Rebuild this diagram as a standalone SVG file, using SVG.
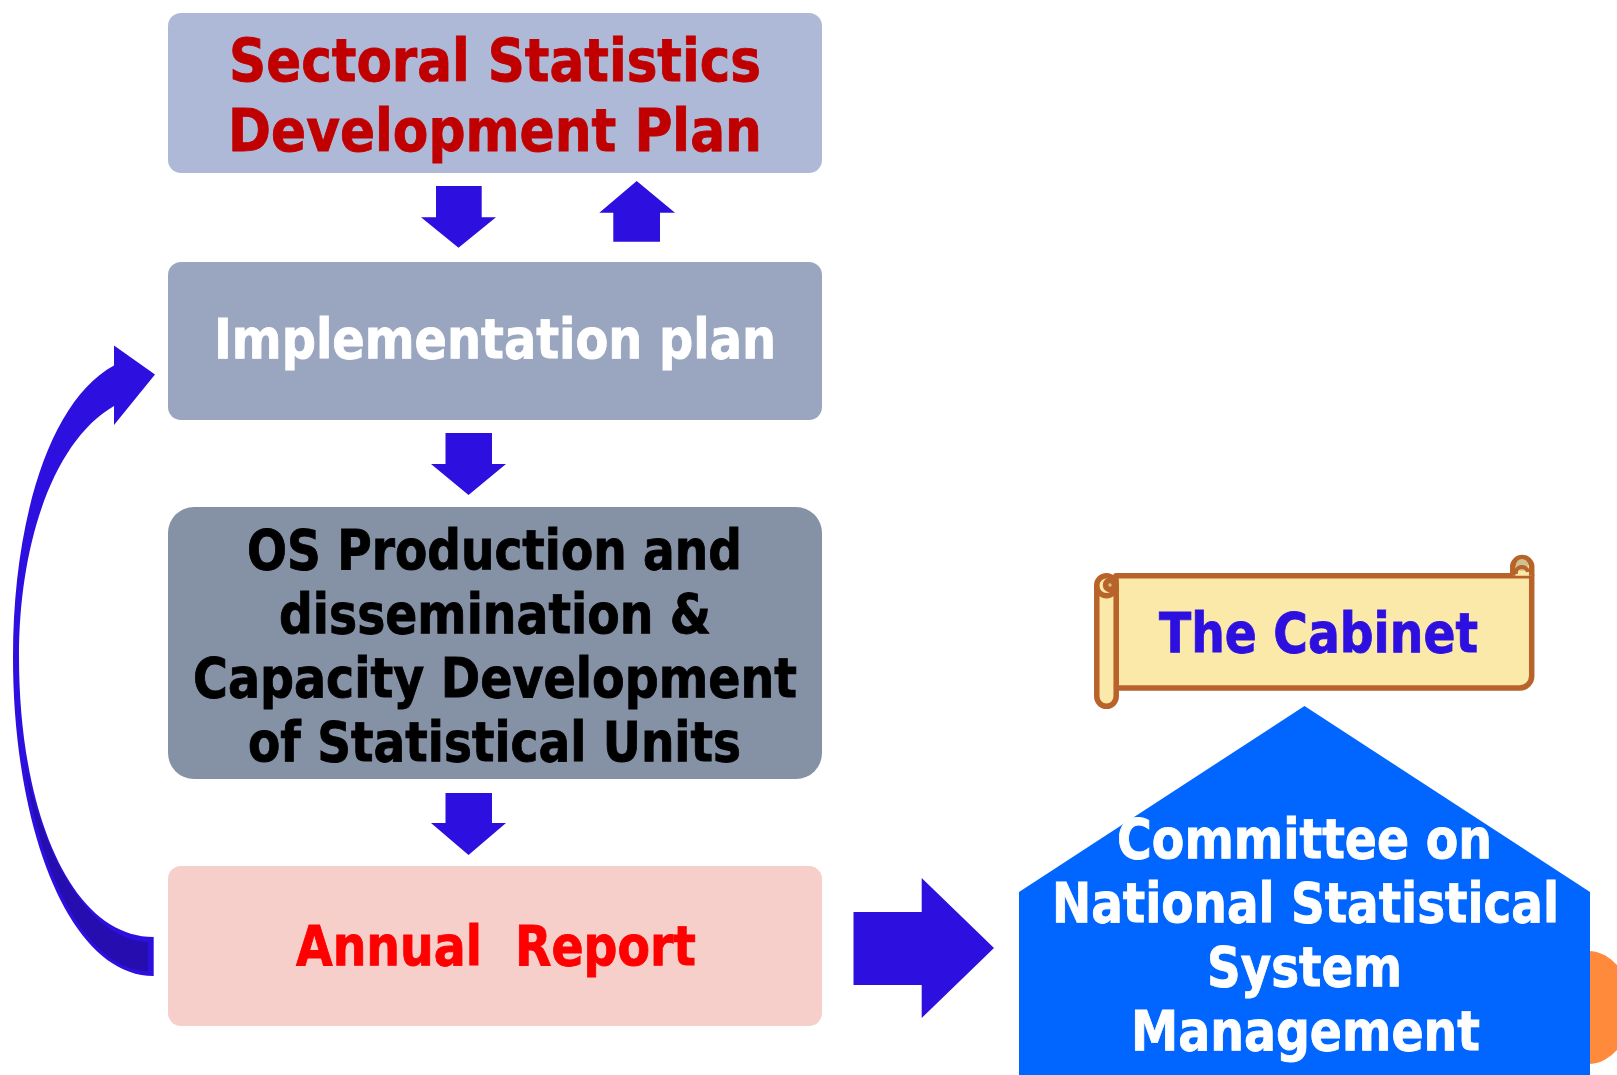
<svg xmlns="http://www.w3.org/2000/svg" width="1617" height="1075" viewBox="0 0 1617 1075">
<style>
text{font-family:"DejaVu Sans","Liberation Sans",sans-serif;font-weight:bold;font-size:55px;stroke-width:.9}
.big{font-size:59px}
.dkred{fill:#c00000;stroke:#c00000}
.white{fill:#fff;stroke:#fff}
.black{fill:#000;stroke:#000}
.red{fill:#f00;stroke:#f00}
.blue{fill:#2d10df;stroke:#2d10df}
.arrow{fill:#2d10df}
.scroll{stroke:#b8632a;stroke-width:5.500;stroke-linejoin:round;fill:#fbe9a9}
.curl{fill:#cfc08f}
</style>
<rect width="1617" height="1075" fill="#fff"/>
<ellipse id="orange-shape" cx="1588" cy="1007.5" rx="44" ry="56.5" fill="#ff8a3c"/>
<g id="sectoral-plan">
<rect x="168" y="13" width="654" height="160" rx="13" fill="#adb9d6"/>
<text class="big dkred" x="229" y="81" textLength="532" lengthAdjust="spacingAndGlyphs">Sectoral Statistics</text>
<text class="big dkred" x="228" y="151" textLength="534" lengthAdjust="spacingAndGlyphs">Development Plan</text>
</g>
<g id="implementation-plan">
<rect x="168" y="262" width="654" height="158" rx="13" fill="#9aa6bf"/>
<text class="white" x="214" y="358" textLength="562" lengthAdjust="spacingAndGlyphs">Implementation plan</text>
</g>
<g id="os-production">
<rect x="168" y="507" width="654" height="272" rx="26" fill="#8591a4"/>
<text class="black" x="247" y="568.500" textLength="495" lengthAdjust="spacingAndGlyphs">OS Production and</text>
<text class="black" x="279" y="632.500" textLength="432" lengthAdjust="spacingAndGlyphs">dissemination &amp;</text>
<text class="black" x="193" y="696.500" textLength="604" lengthAdjust="spacingAndGlyphs">Capacity Development</text>
<text class="black" x="248" y="761" textLength="493" lengthAdjust="spacingAndGlyphs">of Statistical Units</text>
</g>
<g id="annual-report">
<rect x="168" y="866" width="654" height="160" rx="13" fill="#f6cfca"/>
<text class="red" x="296" y="965" textLength="400" lengthAdjust="spacingAndGlyphs" xml:space="preserve">Annual  Report</text>
</g>
<g id="the-cabinet">
<path class="scroll" d="M1116 575.700H1531.700V676a12 12 0 0 1 -12 12H1116Z"/>
<rect class="scroll" x="1096.800" y="575.700" width="19.400" height="130.600" rx="9.700"/>
<path class="scroll" d="M1096.800 586a9.700 9.700 0 0 0 19.400 0M1108 578h4"/>
<circle class="scroll curl" cx="1110" cy="585" r="4.500"/>
<path class="scroll" d="M1512.800 575.700V566a9.500 9.500 0 0 1 18.900 0V575.700"/>
<circle class="curl" cx="1522" cy="565" r="6"/>
<path d="M1516 574a6 6 0 0 1 12 -2" fill="none" stroke="#b8632a" stroke-width="4"/>
<text class="blue" x="1159" y="652" textLength="319" lengthAdjust="spacingAndGlyphs">The Cabinet</text>
</g>
<g id="committee">
<path d="M1304.500 706L1590 892V1075H1019V892Z" fill="#0066ff"/>
<text class="white" x="1117" y="858" textLength="375" lengthAdjust="spacingAndGlyphs">Committee on</text>
<text class="white" x="1052" y="922" textLength="507" lengthAdjust="spacingAndGlyphs">National Statistical</text>
<text class="white" x="1207" y="986" textLength="195" lengthAdjust="spacingAndGlyphs">System</text>
<text class="white" x="1131" y="1050" textLength="349" lengthAdjust="spacingAndGlyphs">Management</text>
</g>
<g id="connectors">
<path class="arrow" d="M436 186H481.700V217.300H496L458.500 247.700L421 217.300H436Z"/>
<path class="arrow" d="M613.300 241.700H660V212.700H675L636.700 181L599.300 212.700H613.300Z"/>
<path class="arrow" d="M445.500 433H492V464H506L468.500 495L431 464H445.500Z"/>
<path class="arrow" d="M445.500 793H492V823H506L468.500 855L431 823H445.500Z"/>
<path class="arrow" d="M853.500 912H921.700V878L994 948L921.700 1018V985H853.500Z"/>
<path class="arrow" d="M153.700 976C70 976 13 830 13 657C13 520 50 400 114 365.600V345.500L155 374.500L114 425V406C55 440 19 540 19 657C19 810 70 937 153.700 937Z"/>
<path d="M148 942C90 940 45 860 25 764C40 880 90 971 148 971Z" fill="#250db0"/>
</g>
</svg>
